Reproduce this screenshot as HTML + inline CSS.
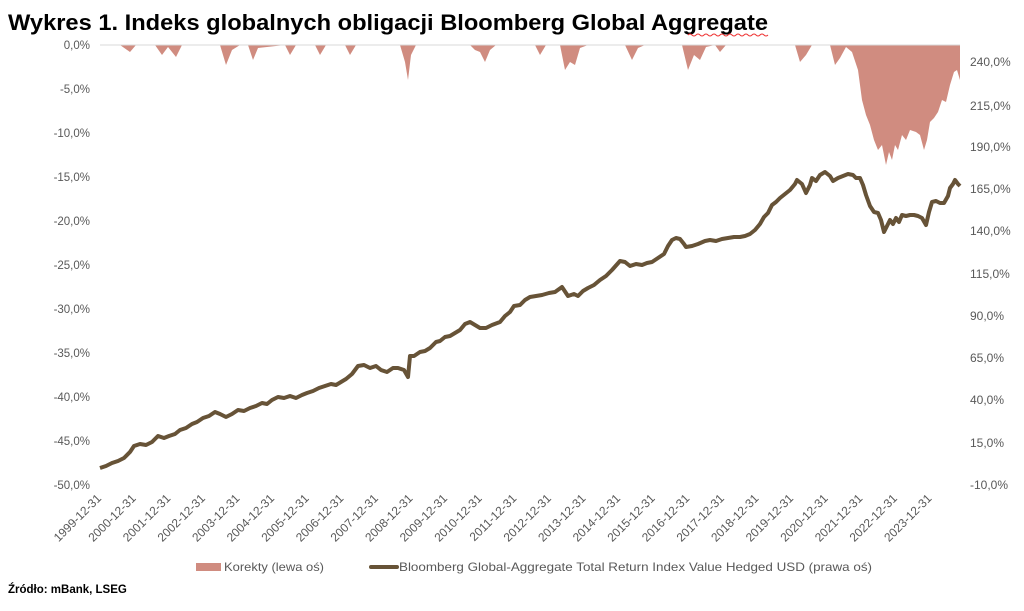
<!DOCTYPE html>
<html><head><meta charset="utf-8"><style>
body{margin:0;background:#fff;width:1024px;height:606px;overflow:hidden;font-family:"Liberation Sans",sans-serif}
</style></head><body>
<svg width="1024" height="606" xmlns="http://www.w3.org/2000/svg" font-family="Liberation Sans, sans-serif">
<text x="8" y="30" font-size="22" font-weight="bold" fill="#000" textLength="760" lengthAdjust="spacingAndGlyphs">Wykres 1. Indeks globalnych obligacji Bloomberg Global Aggregate</text>
<path d="M688,35 q2,-2 4,0 t4,0 t4,0 t4,0 t4,0 t4,0 t4,0 t4,0 t4,0 t4,0 t4,0 t4,0 t4,0 t4,0 t4,0 t4,0 t4,0 t4,0 t4,0 t4,0" stroke="#e33" fill="none" stroke-width="1"/>
<g font-size="11.5" fill="#595959" text-anchor="end">
<text x="90" y="49">0,0%</text><text x="90" y="93">-5,0%</text><text x="90" y="137">-10,0%</text><text x="90" y="181">-15,0%</text><text x="90" y="225">-20,0%</text><text x="90" y="269">-25,0%</text><text x="90" y="313">-30,0%</text><text x="90" y="357">-35,0%</text><text x="90" y="401">-40,0%</text><text x="90" y="445">-45,0%</text><text x="90" y="489">-50,0%</text>
</g>
<g font-size="12" fill="#595959" text-anchor="start">
<text x="970" y="66">240,0%</text><text x="970" y="110">215,0%</text><text x="970" y="151">190,0%</text><text x="970" y="193">165,0%</text><text x="970" y="235">140,0%</text><text x="970" y="278">115,0%</text><text x="970" y="320">90,0%</text><text x="970" y="362">65,0%</text><text x="970" y="404">40,0%</text><text x="970" y="447">15,0%</text><text x="970" y="489">-10,0%</text>
</g>
<polygon fill="#d08c80" points="100,45 120,45 130,52 136,45 155,45 162,55 168,47 176,57 182,45 220,45 226,65 232,50 240,45 248,45 253,60 258,48 285,45 290,55 296,45 315,45 320,55 326,45 345,45 350,55 356,45 400,45 405,62 408,80 411,55 416,45 470,45 475,50 480,52 485,62 490,50 496,45 535,45 540,55 546,45 560,45 565,70 570,62 575,65 580,48 588,45 625,45 632,60 638,48 645,45 682,45 688,70 694,55 700,60 706,47 715,45 720,52 726,45 795,45 800,62 806,55 812,45 830,45 835,65 840,58 846,47 852,52 858,70 862,100 866,115 870,125 874,140 878,150 882,145 886,165 889,152 892,160 895,145 898,150 902,135 906,140 910,130 916,132 920,135 924,150 927,140 930,122 934,118 938,112 942,100 946,102 950,85 954,72 957,70 960,80 960,45"/>
<line x1="100" y1="45" x2="960" y2="45" stroke="#d9d9d9" stroke-width="1"/>
<polyline fill="none" stroke="#675337" stroke-width="4" stroke-linejoin="round" points="100,468 106,466 112,463 118,461 124,458 130,452 134,446 140,444 146,445 152,442 158,436 164,438 169,436 175,434 180,430 186,428 192,424 197,422 203,418 209,416 215,412 220,414 226,417 232,414 238,410 244,411 250,408 256,406 262,403 267,404 272,400 278,397 284,398 290,396 296,398 302,395 307,393 313,391 319,388 325,386 331,384 336,385 341,382 346,379 352,374 358,366 364,365 370,368 376,366 381,370 387,372 393,368 398,368 404,370 408,377 410,356 414,356 420,352 425,351 430,348 436,342 440,341 445,337 450,336 455,333 460,330 465,324 470,322 475,325 480,328 486,328 492,325 500,322 505,316 510,312 514,306 520,305 525,300 530,297 536,296 542,295 549,293 555,292 562,287 568,296 574,294 578,296 583,291 588,288 594,285 600,280 606,276 612,270 620,261 625,262 630,266 636,264 642,265 647,263 652,262 658,258 664,254 668,246 672,240 676,238 680,239 684,244 686,247 692,246 698,244 705,241 710,240 716,241 722,239 728,238 734,237 740,237 745,236 750,234 755,230 760,224 764,217 768,213 772,205 776,202 780,198 785,194 790,190 795,184 797,180 802,184 806,193 810,185 812,178 816,181 820,175 825,172 830,176 833,181 838,178 843,176 848,174 853,175 856,178 860,178 863,185 866,195 870,206 874,212 878,213 881,220 884,232 887,226 890,220 893,224 896,218 899,222 902,215 906,216 910,215 914,215 918,216 922,218 926,225 929,212 932,202 936,201 940,203 944,203 948,196 950,188 953,184 955,180 958,184 960,186"/>
<g font-size="12" fill="#595959" text-anchor="end">
<text transform="translate(102,499) rotate(-45)">1999-12-31</text>
<text transform="translate(136.6,499) rotate(-45)">2000-12-31</text>
<text transform="translate(171.2,499) rotate(-45)">2001-12-31</text>
<text transform="translate(205.8,499) rotate(-45)">2002-12-31</text>
<text transform="translate(240.4,499) rotate(-45)">2003-12-31</text>
<text transform="translate(275,499) rotate(-45)">2004-12-31</text>
<text transform="translate(309.6,499) rotate(-45)">2005-12-31</text>
<text transform="translate(344.2,499) rotate(-45)">2006-12-31</text>
<text transform="translate(378.8,499) rotate(-45)">2007-12-31</text>
<text transform="translate(413.4,499) rotate(-45)">2008-12-31</text>
<text transform="translate(448,499) rotate(-45)">2009-12-31</text>
<text transform="translate(482.6,499) rotate(-45)">2010-12-31</text>
<text transform="translate(517.2,499) rotate(-45)">2011-12-31</text>
<text transform="translate(551.8,499) rotate(-45)">2012-12-31</text>
<text transform="translate(586.4,499) rotate(-45)">2013-12-31</text>
<text transform="translate(621,499) rotate(-45)">2014-12-31</text>
<text transform="translate(655.6,499) rotate(-45)">2015-12-31</text>
<text transform="translate(690.2,499) rotate(-45)">2016-12-31</text>
<text transform="translate(724.8,499) rotate(-45)">2017-12-31</text>
<text transform="translate(759.4,499) rotate(-45)">2018-12-31</text>
<text transform="translate(794,499) rotate(-45)">2019-12-31</text>
<text transform="translate(828.6,499) rotate(-45)">2020-12-31</text>
<text transform="translate(863.2,499) rotate(-45)">2021-12-31</text>
<text transform="translate(897.8,499) rotate(-45)">2022-12-31</text>
<text transform="translate(932.4,499) rotate(-45)">2023-12-31</text>
</g>
<rect x="196" y="563" width="25" height="8" fill="#d08c80"/>
<text x="224" y="571" font-size="12" fill="#595959" textLength="100" lengthAdjust="spacingAndGlyphs">Korekty (lewa oś)</text>
<line x1="371" y1="567" x2="397" y2="567" stroke="#675337" stroke-width="4" stroke-linecap="round"/>
<text x="399" y="571" font-size="12" fill="#595959" textLength="473" lengthAdjust="spacingAndGlyphs">Bloomberg Global-Aggregate Total Return Index Value Hedged USD (prawa oś)</text>
<text x="8" y="593" font-size="11.5" font-weight="bold" fill="#000">Źródło: mBank, LSEG</text>
</svg>
</body></html>
